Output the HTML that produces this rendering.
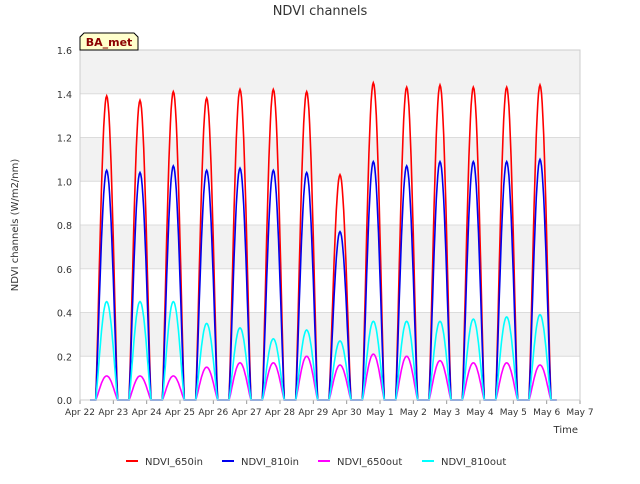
<!DOCTYPE html>
<html><head><meta charset="utf-8"><style>
body{margin:0;background:#fff;font-family:"DejaVu Sans","Liberation Sans",sans-serif;}
</style></head><body>
<svg id="c" width="640" height="480" xmlns="http://www.w3.org/2000/svg" font-family="DejaVu Sans, Liberation Sans, sans-serif">
<text x="320" y="15" text-anchor="middle" font-size="13" fill="#333">NDVI channels</text>
<g id="bands"></g>
<g id="grid"></g>
<g id="series"></g>
<g id="axes"></g>
<text x="18" y="225" transform="rotate(-90 18 225)" text-anchor="middle" font-size="10" fill="#333">NDVI channels (W/m2/nm)</text>
<text x="578" y="433" text-anchor="end" font-size="10" fill="#333">Time</text>
<g>
<path d="M80,50 L80,37 L84,33 L134,33 L138,37 L138,50 Z" fill="#ffffcc" stroke="#000" stroke-width="1"/>
<text x="109" y="46" text-anchor="middle" font-size="11" font-weight="bold" fill="#8b0000">BA_met</text>
</g>
<g id="legend"></g>
</svg>
<script>
const days=["Apr 22","Apr 23","Apr 24","Apr 25","Apr 26","Apr 27","Apr 28","Apr 29","Apr 30","May 1","May 2","May 3","May 4","May 5","May 6","May 7"];
const yTicks=[0,0.2,0.4,0.6,0.8,1.0,1.2,1.4,1.6];
const in650=[1.39,1.37,1.41,1.38,1.42,1.42,1.41,1.03,1.45,1.43,1.44,1.43,1.43,1.44];
const in810=[1.05,1.04,1.07,1.05,1.06,1.05,1.04,0.77,1.09,1.07,1.09,1.09,1.09,1.10];
const out650=[0.11,0.11,0.11,0.15,0.17,0.17,0.20,0.16,0.21,0.20,0.18,0.17,0.17,0.16];
const out810=[0.45,0.45,0.45,0.35,0.33,0.28,0.32,0.27,0.36,0.36,0.36,0.37,0.38,0.39];
const seriesNames=["NDVI_650in","NDVI_810in","NDVI_650out","NDVI_810out"];
const colors=["#ff0000","#0000ee","#ff00ff","#00ffff"];
const NS="http://www.w3.org/2000/svg";
const X0=80,X1=580,Y0=400,Y1=50;
const xs=d=>X0+(X1-X0)*d/15;
const ys=v=>Y0-(Y0-Y1)*v/1.6;
function mk(t,a,p){const e=document.createElementNS(NS,t);for(const k in a)e.setAttribute(k,a[k]);p.appendChild(e);return e;}
const bands=document.getElementById('bands');
for(let i=0;i<8;i++){
 if(i%2===1){const r=mk('rect',{x:X0,y:ys(yTicks[i+1]),width:X1-X0,height:ys(yTicks[i])-ys(yTicks[i+1]),fill:'#f2f2f2'},bands);
 
 }
}
const grid=document.getElementById('grid'),axes=document.getElementById('axes');
yTicks.forEach(v=>{
 mk('line',{x1:X0,x2:X1,y1:ys(v),y2:ys(v),stroke:'#dcdcdc','stroke-width':1},grid);
 const t=mk('text',{x:X0-8,y:ys(v)+4,'text-anchor':'end','font-size':9.5,fill:'#333'},axes);t.textContent=v.toFixed(1);
 
 
});
days.forEach((d,i)=>{
 mk('line',{x1:xs(i),x2:xs(i),y1:Y0,y2:Y0+4,stroke:'#999'},axes);
 const t=mk('text',{x:xs(i),y:Y0+15,'text-anchor':'middle','font-size':9,fill:'#333'},axes);t.textContent=d;
 
 
});
mk('rect',{x:X0,y:Y1,width:X1-X0,height:Y0-Y1,fill:'none',stroke:'#ccc'},axes);
const sg=document.getElementById('series');
[in650,in810,out650,out810].forEach((arr,s)=>{
 let pts=[];const hw=0.33,start=0.3,end=14.3;
 pts.push([xs(start),ys(0)]);
 arr.forEach((pk,i)=>{
  const c=i+0.8;
  for(let k=0;k<=30;k++){const t=-hw+2*hw*k/30;const cv=Math.max(0,Math.cos(Math.PI*t/(2*hw)));const f=Math.pow(cv,1.2);pts.push([xs(c+t),ys(pk*f)]);}
 });
 pts.push([xs(end),ys(0)]);
 const p=mk('polyline',{points:pts.map(p=>p[0].toFixed(1)+','+p[1].toFixed(1)).join(' '),fill:'none',stroke:colors[s],'stroke-width':1.6},sg);
 
 
});
const lg=document.getElementById('legend');
const lx=[126,222,318,422];
seriesNames.forEach((n,i)=>{
 const g=mk('g',{},lg);
 
 
 mk('line',{x1:lx[i],x2:lx[i]+12,y1:461,y2:461,stroke:colors[i],'stroke-width':2},g);
 const t=mk('text',{x:lx[i]+19,y:465,'font-size':10,fill:'#333'},g);t.textContent=n;
});
</script>
</body></html>
